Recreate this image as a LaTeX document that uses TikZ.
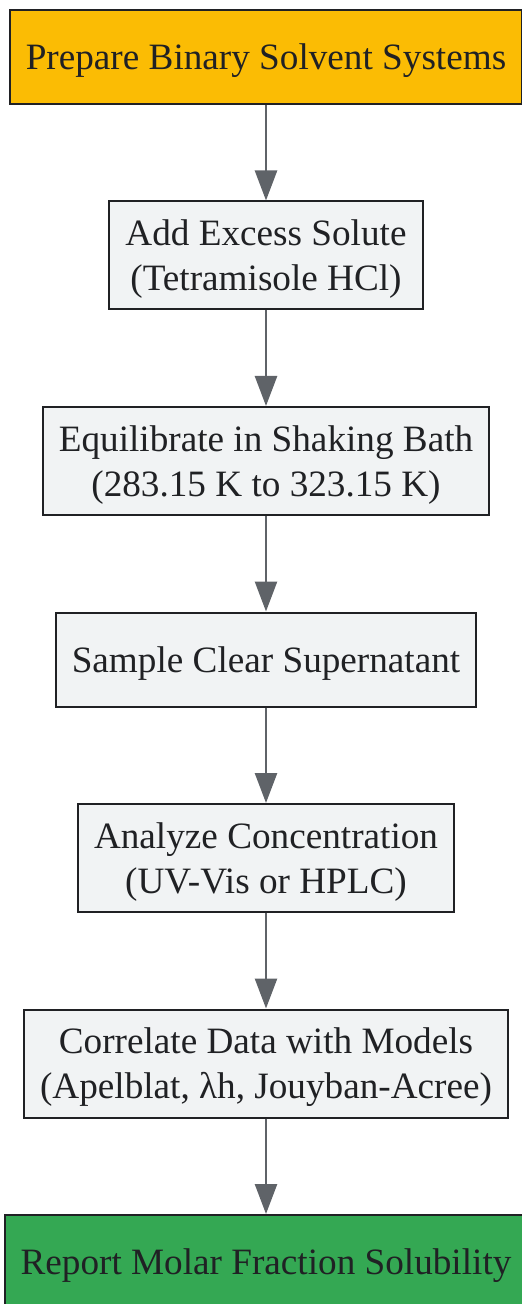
\documentclass[tikz,border=0pt]{standalone}
\usepackage{fontspec}
\setmainfont{Liberation Serif}
\usepackage{tikz}
\usetikzlibrary{arrows.meta,positioning}
\definecolor{stepgray}{HTML}{F1F3F4}
\definecolor{startyellow}{HTML}{FBBC04}
\definecolor{endgreen}{HTML}{34A853}
\definecolor{edgedark}{HTML}{202124}
\definecolor{arrowgray}{HTML}{5F6368}

\begin{document}
\begin{tikzpicture}[x=0.5pt,y=-0.5pt,
	stepbox/.style={draw=edgedark,line width=1pt,fill=stepgray,align=center,
		inner xsep=8pt,minimum height=47pt,text=edgedark,text depth=0pt,
		font=\fontsize{18.6}{22.5}\selectfont},
	twoline/.style={minimum height=54pt},
	flow/.style={-{Triangle[width=11pt,length=15pt]},draw=arrowgray,fill=arrowgray,line width=1.3pt},
	node distance=47.75pt]

	%Fix the page size
	\useasboundingbox (0,0) rectangle (522,1304);

	%The steps, top to bottom
	\node[stepbox,fill=startyellow] (prep) at (266,57) {Prepare Binary Solvent Systems};
	\node[stepbox,twoline,below=of prep] (add) {Add Excess Solute\\(Tetramisole HCl)};
	\node[stepbox,twoline,below=of add] (equil) {Equilibrate in Shaking Bath\\(283.15 K to 323.15 K)};
	\node[stepbox,below=of equil] (sample) {Sample Clear Supernatant};
	\node[stepbox,twoline,below=of sample] (analyze) {Analyze Concentration\\(UV-Vis or HPLC)};
	\node[stepbox,twoline,below=of analyze] (correl) {Correlate Data with Models\\(Apelblat, λh, Jouyban-Acree)};
	\node[stepbox,fill=endgreen,below=of correl] (report) {Report Molar Fraction Solubility};

	%Arrows between the steps
	\draw[flow] (prep) -- (add);
	\draw[flow] (add) -- (equil);
	\draw[flow] (equil) -- (sample);
	\draw[flow] (sample) -- (analyze);
	\draw[flow] (analyze) -- (correl);
	\draw[flow] (correl) -- (report);

\end{tikzpicture}
\end{document}
